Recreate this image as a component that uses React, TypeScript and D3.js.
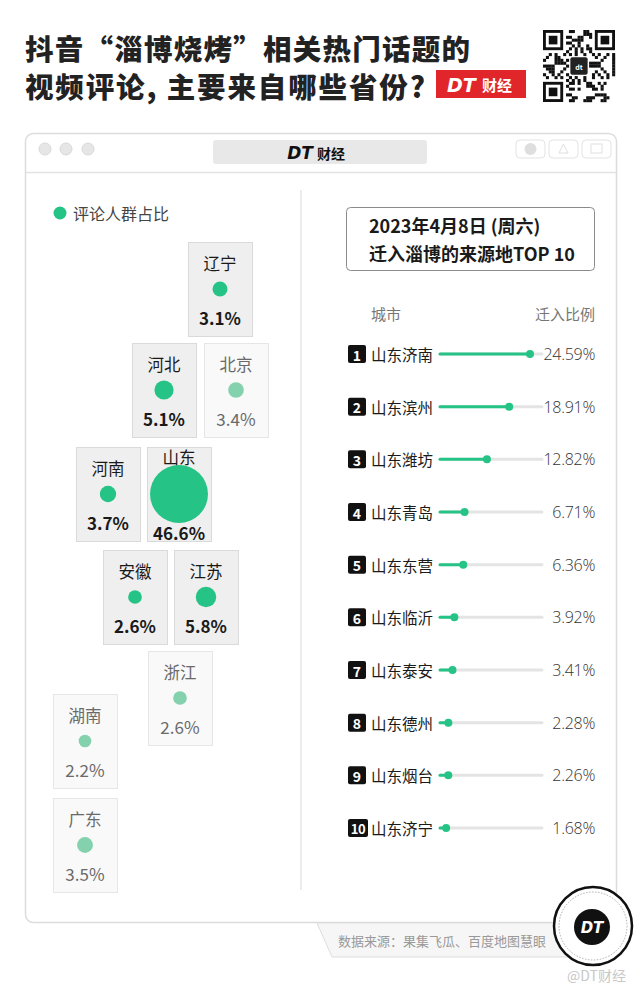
import React from "react";
import * as d3 from "d3";

// ---------- data ----------
const provinces = ["辽宁", "河北", "北京", "河南", "山东", "安徽", "江苏", "浙江", "湖南", "广东"];
const shares = [3.1, 5.1, 3.4, 3.7, 46.6, 2.6, 5.8, 2.6, 2.2, 3.5];
const provinceGroup = ["core", "core", "outer", "core", "core", "core", "core", "outer", "outer", "outer"];
// tile-map layout (top-left corner of each tile)
const tileLeft = [188, 132, 204, 76, 147, 103, 174, 148, 53, 53];
const tileTop = [242, 343, 343, 447, 447, 550, 550, 651, 694, 798];

const ranks = ["1", "2", "3", "4", "5", "6", "7", "8", "9", "10"];
const cities = ["山东济南", "山东滨州", "山东潍坊", "山东青岛", "山东东营", "山东临沂", "山东泰安", "山东德州", "山东烟台", "山东济宁"];
const rates = [24.59, 18.91, 12.82, 6.71, 6.36, 3.92, 3.41, 2.28, 2.26, 1.68];

const FONT = "'Noto Sans CJK SC', 'Noto Sans', sans-serif";
const GREEN = "#25c486";
const GREEN_LIGHT = "#84d1ad";

const TILE_W = 64;
const TILE_H = 94;

function QRCode({ x, y, size }: { x: number; y: number; size: number }) {
  const n = 25;
  const m = size / n;
  const cells: JSX.Element[] = [];
  const inFinder = (i: number, j: number) =>
    (i < 8 && j < 8) || (i < 8 && j >= n - 8) || (i >= n - 8 && j < 8);
  for (let i = 0; i < n; i++) {
    for (let j = 0; j < n; j++) {
      if (inFinder(i, j)) continue;
      if (i >= 9 && i <= 15 && j >= 9 && j <= 15) continue;
      const on = ((i * 7 + j * 13 + i * j * 3 + (i ^ j)) % 5) < 2;
      if (on) cells.push(<rect key={`${i}-${j}`} x={x + j * m} y={y + i * m} width={m + 0.2} height={m + 0.2} fill="#111" />);
    }
  }
  const finder = (fx: number, fy: number, k: string) => (
    <g key={k}>
      <rect x={fx} y={fy} width={7 * m} height={7 * m} fill="#111" />
      <rect x={fx + m} y={fy + m} width={5 * m} height={5 * m} fill="#fff" />
      <rect x={fx + 2 * m} y={fy + 2 * m} width={3 * m} height={3 * m} fill="#111" />
    </g>
  );
  return (
    <g>
      <rect x={x} y={y} width={size} height={size} fill="#fff" />
      {cells}
      {finder(x, y, "a")}
      {finder(x + (n - 7) * m, y, "b")}
      {finder(x, y + (n - 7) * m, "c")}
      <rect x={x + 9.5 * m} y={y + 9.5 * m} width={6 * m} height={6 * m} rx={2} fill="#222" />
      <text x={x + 12.5 * m} y={y + 12.8 * m} fill="#fff" fontSize={7} fontWeight={700} textAnchor="middle" dominantBaseline="central" fontFamily={FONT}>dt</text>
    </g>
  );
}

export default function App() {
  const rScale = d3.scaleSqrt().domain([0, 46.6]).range([0, 29]);
  const xBar = d3.scaleLinear().domain([0, 24.59]).range([440, 530]);
  const yRow = d3.scalePoint<string>().domain(cities).range([354, 828]);
  const trackEnd = 542;

  return (
    <svg width={640} height={984} viewBox="0 0 640 984" style={{ position: "absolute", left: 0, top: 0, background: "#fff" }} fontFamily={FONT}>
      <rect x={0} y={0} width={640} height={984} fill="#fff" />

      {/* Title */}
      <text x={25} y={47} fontSize={28.5} fontWeight={900} fill="#222" dominantBaseline="central" textLength={445} lengthAdjust="spacing">抖音“淄博烧烤”相关热门话题的</text>
      <text x={25} y={85} fontSize={28.5} fontWeight={900} fill="#222" dominantBaseline="central" textLength={400} lengthAdjust="spacing">视频评论, 主要来自哪些省份?</text>
      <rect x={436} y={70} width={90} height={28} fill="#e0262a" />
      <text x={447} y={84.5} fontSize={19} fontWeight={900} fontStyle="italic" fill="#fff" dominantBaseline="central" fontFamily="'DejaVu Sans', sans-serif">DT</text>
      <text x={482} y={84.5} fontSize={15} fontWeight={700} fill="#fff" dominantBaseline="central">财经</text>
      <QRCode x={543} y={30} size={72} />

      {/* Window frame */}
      <rect x={25.5} y={133.5} width={591} height={789} rx={8} fill="#fff" stroke="#dcdcdc" strokeWidth={1.5} />
      <line x1={26} x2={616} y1={172.5} y2={172.5} stroke="#e3e3e3" strokeWidth={1.5} />
      {[45, 66, 88].map((cx) => (
        <circle key={cx} cx={cx} cy={149} r={6} fill="#e6e6e6" stroke="#d8d8d8" />
      ))}
      <rect x={213} y={140} width={214} height={24} rx={3} fill="#e8e8e8" />
      <text x={300} y={152.5} fontSize={17} fontWeight={900} fontStyle="italic" fill="#111" textAnchor="middle" dominantBaseline="central" fontFamily="'DejaVu Sans', sans-serif">DT</text>
      <text x={331} y={152.5} fontSize={14} fontWeight={700} fill="#111" textAnchor="middle" dominantBaseline="central">财经</text>
      {[516, 549, 582].map((bx, i) => (
        <g key={bx}>
          <rect x={bx} y={140} width={29} height={18} rx={4} fill="#fff" stroke="#e3e3e3" />
          {i === 0 && <circle cx={bx + 14.5} cy={149} r={6} fill="#dedede" />}
          {i === 1 && <path d={`M${bx + 10},${153} L${bx + 14.5},${144} L${bx + 19},${153} Z`} fill="none" stroke="#e0e0e0" />}
          {i === 2 && <rect x={bx + 9} y={144} width={11} height={9} fill="none" stroke="#e0e0e0" />}
        </g>
      ))}

      {/* Divider */}
      <line x1={301} x2={301} y1={190} y2={890} stroke="#e6e6e6" strokeWidth={1.5} />

      {/* Left legend */}
      <circle cx={60} cy={213} r={6.5} fill={GREEN} />
      <text x={73} y={213} fontSize={16} fill="#444" dominantBaseline="central">评论人群占比</text>

      {/* Tiles */}
      {provinces.map((p, i) => {
        const core = provinceGroup[i] === "core";
        const x = tileLeft[i];
        const y = tileTop[i];
        const cx = x + TILE_W / 2;
        const big = rScale(shares[i]) > 20;
        return (
          <g key={p}>
            <rect x={x + 0.5} y={y + 0.5} width={TILE_W} height={TILE_H} fill={core ? "#efefef" : "#f9f9f9"} stroke={core ? "#dadada" : "#e6e6e6"} />
            <text x={cx} y={y + (big ? 10 : 21)} fontSize={16.5} fill={core ? "#1a1a1a" : "#6a6a6a"} textAnchor="middle" dominantBaseline="central">{p}</text>
            <circle cx={cx} cy={y + 47} r={rScale(shares[i])} fill={core ? GREEN : GREEN_LIGHT} />
            <text x={cx} y={y + (big ? 85 : 75)} fontSize={17} fontWeight={core ? 700 : 400} fill={core ? "#1a1a1a" : "#6a6a6a"} textAnchor="middle" dominantBaseline="central">{shares[i].toFixed(1)}%</text>
          </g>
        );
      })}

      {/* Right panel box */}
      <rect x={346.5} y={207.5} width={248} height={63} rx={4} fill="#fff" stroke="#8a8a8a" />
      <text x={369} y={225} fontSize={18} fontWeight={700} fill="#1a1a1a" dominantBaseline="central">2023年4月8日 (周六)</text>
      <text x={369} y={253} fontSize={18} fontWeight={700} fill="#1a1a1a" dominantBaseline="central">迁入淄博的来源地TOP 10</text>

      <text x={371} y={313} fontSize={15} fill="#777" dominantBaseline="central">城市</text>
      <text x={595} y={313} fontSize={15} fill="#777" textAnchor="end" dominantBaseline="central">迁入比例</text>

      {cities.map((c, i) => {
        const y = yRow(c) as number;
        const wide = ranks[i].length > 1;
        return (
          <g key={c}>
            <rect x={348} y={y - 9} width={wide ? 20 : 18} height={18} rx={2} fill="#111" />
            <text x={348 + (wide ? 10 : 9)} y={y + 0.5} fontSize={wide ? 13 : 14} fontWeight={700} fill="#fff" textAnchor="middle" dominantBaseline="central" letterSpacing={wide ? -0.5 : 0}>{ranks[i]}</text>
            <text x={371} y={y} fontSize={15.5} fill="#1a1a1a" dominantBaseline="central">{c}</text>
            <line x1={xBar(0)} x2={trackEnd} y1={y} y2={y} stroke="#e4e4e4" strokeWidth={3} strokeLinecap="round" />
            <line x1={xBar(0)} x2={xBar(rates[i])} y1={y} y2={y} stroke={GREEN} strokeWidth={3} strokeLinecap="round" />
            <circle cx={xBar(rates[i])} cy={y} r={4} fill={GREEN} />
            <text x={595} y={y} fontSize={16} fill="#333" textAnchor="end" dominantBaseline="central" fontFamily="'Open Sans', sans-serif" fontWeight={300} letterSpacing={-0.3}>{rates[i].toFixed(2)}%</text>
          </g>
        );
      })}

      {/* Footer source tab */}
      <path d="M317,923 L590,923 L590,957 L332,957 Z" fill="#f6f6f6" stroke="#dddddd" />
      <text x={338} y={940} fontSize={13} fill="#999" dominantBaseline="central">数据来源：果集飞瓜、百度地图慧眼</text>

      {/* Logo */}
      <circle cx={593} cy={926} r={39} fill="#fff" stroke="#111" strokeWidth={2.5} />
      <circle cx={593} cy={926} r={34} fill="none" stroke="#999" strokeWidth={0.8} strokeDasharray="1.5 1.5" />
      <circle cx={592} cy={927} r={18} fill="#111" />
      <text x={592} y={928} fontSize={15} fontWeight={900} fontStyle="italic" fill="#fff" textAnchor="middle" dominantBaseline="central" fontFamily="'DejaVu Sans', sans-serif">DT</text>

      <text x={626} y={975} fontSize={14} fill="#c8c8c8" textAnchor="end" dominantBaseline="central">@DT财经</text>
    </svg>
  );
}
